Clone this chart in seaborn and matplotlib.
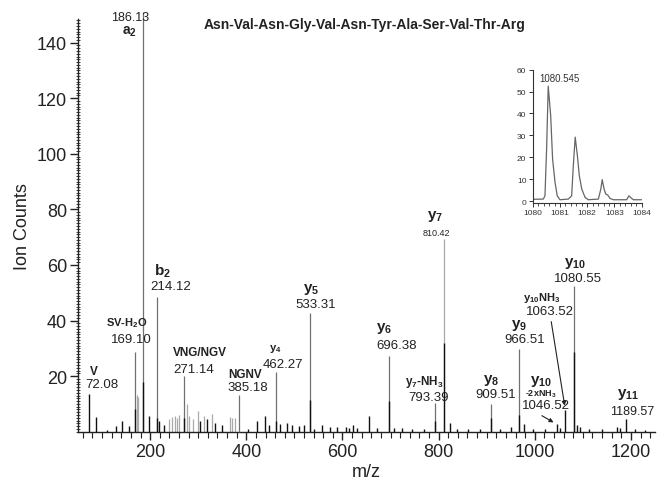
import numpy as np
import pandas as pd
import matplotlib
matplotlib.use("Agg")
import matplotlib.pyplot as plt
from matplotlib.ticker import MultipleLocator, FixedLocator
import seaborn as sns

# ---------------- data ----------------
title = "Asn-Val-Asn-Gly-Val-Asn-Tyr-Ala-Ser-Val-Thr-Arg"

# stick spectrum: m/z, intensity, shade (0 = black, 1 = dark grey, 2 = light grey)
peak_mz = [72.08, 87, 111, 129, 141, 156, 169.10, 169.10, 172, 174, 186.13, 186.13, 198,
           214.12, 214.12, 218, 229, 240, 246, 251, 256, 260, 271.14, 271.14, 276, 281,
           290, 300, 304, 312, 319, 328, 334, 350, 367, 371, 376, 385.18, 404, 423, 439,
           447, 462.27, 462.27, 471, 485, 496, 509, 519, 533.31, 533.31, 541, 558, 575,
           589, 607, 613, 621, 631, 655, 672, 696.38, 696.38, 707, 724, 745, 769, 793.39,
           793.39, 810.42, 810.42, 823, 838, 862, 887, 909.51, 909.51, 928, 951, 966.51,
           966.51, 977, 997, 1022, 1046.52, 1053, 1063.52, 1080.55, 1080.55, 1087, 1094,
           1113, 1139, 1170, 1177, 1189.57, 1209, 1229]
peak_int = [13.6, 5.2, 0.6, 2.0, 4.0, 2.2, 28.6, 8.0, 13.2, 12.5, 151.0, 18.0, 5.8,
            48.4, 5.0, 4.0, 2.5, 4.5, 5.2, 5.5, 4.8, 6.0, 20.2, 5.0, 10.0, 5.8,
            4.5, 7.6, 4.0, 5.8, 4.7, 6.2, 3.0, 2.4, 5.2, 4.8, 5.0, 13.2, 1.0, 4.0, 5.6,
            2.4, 21.4, 4.0, 2.7, 3.0, 2.4, 2.0, 2.4, 42.8, 11.4, 1.0, 2.4, 1.8,
            1.8, 1.8, 1.5, 2.4, 1.5, 5.5, 1.5, 27.4, 11.2, 1.5, 1.5, 1.0, 1.0, 10.5,
            4.0, 69.4, 32.0, 3.0, 1.0, 1.0, 1.0, 10.0, 5.0, 1.0, 1.8, 29.8,
            6.0, 2.6, 1.0, 1.0, 2.6, 1.4, 7.9, 52.3, 28.7, 2.4, 1.8,
            1.0, 0.8, 1.8, 1.2, 4.6, 0.8, 0.6]
peak_shade = [0, 0, 0, 0, 0, 0, 1, 0, 2, 2, 1, 0, 0,
              1, 0, 0, 0, 2, 2, 2, 2, 2, 1, 0, 2, 2,
              2, 2, 0, 2, 0, 2, 0, 0, 2, 2, 2, 1, 0, 0, 0,
              0, 1, 0, 0, 0, 0, 0, 0, 1, 0, 0, 0, 0,
              0, 0, 0, 0, 0, 0, 0, 1, 0, 0, 0, 0, 0, 1,
              0, 2, 0, 0, 0, 0, 0, 1, 0, 0, 0, 1,
              0, 0, 0, 0, 0, 0, 0, 1, 0, 0, 0,
              0, 0, 0, 0, 0, 0, 0]

# labelled ions
lab_mz = [72.08, 169.10, 186.13, 214.12, 271.14, 385.18, 462.27, 533.31, 696.38,
          793.39, 810.42, 909.51, 966.51, 1080.55, 1189.57]
lab_int = [13.6, 28.6, 151.0, 48.4, 20.2, 13.2, 21.4, 42.8, 27.4,
           10.5, 69.4, 10.0, 29.8, 52.3, 4.6]
lab_ion = ["V", r"SV-H$_\mathbf{2}$O", r"$\mathbf{a_2}$", r"$\mathbf{b_2}$", "VNG/NGV", "NGNV",
           r"$\mathbf{y_4}$", r"$\mathbf{y_5}$", r"$\mathbf{y_6}$", r"$\mathbf{y_7}$-NH$_\mathbf{3}$",
           r"$\mathbf{y_7}$", r"$\mathbf{y_8}$", r"$\mathbf{y_9}$", r"$\mathbf{y_{10}}$",
           r"$\mathbf{y_{11}}$"]
lab_txt = ["72.08", "169.10", "186.13", "214.12", "271.14", "385.18", "462.27", "533.31",
           "696.38", "793.39", "810.42", "909.51", "966.51", "1080.55", "1189.57"]

# inset: isotope envelope of y10
iso_mz = [1080.02, 1080.39, 1080.45, 1080.51, 1080.57, 1080.66, 1080.73, 1080.82, 1080.90,
          1081.00, 1081.31, 1081.43, 1081.49, 1081.56, 1081.64, 1081.71, 1081.80, 1081.92,
          1082.04, 1082.41, 1082.50, 1082.55, 1082.62, 1082.68, 1082.75, 1082.84, 1082.96,
          1083.45, 1083.53, 1083.63, 1083.70, 1084.00]
iso_int = [0.8, 0.9, 2.4, 23.7, 52.5, 39.0, 19.2, 8.5, 2.4,
           0.6, 0.9, 2.4, 16.1, 29.2, 20.7, 11.6, 5.5, 1.7,
           0.6, 0.9, 5.5, 9.8, 5.5, 3.2, 2.8, 1.2, 0.6,
           0.6, 2.4, 1.2, 0.6, 0.6]

# ---------------- style ----------------
sns.set_theme(style="ticks")
plt.rcParams["font.family"] = ["Liberation Sans", "DejaVu Sans"]
plt.rcParams["mathtext.fontset"] = "custom"
plt.rcParams["mathtext.rm"] = "Liberation Sans"
plt.rcParams["mathtext.it"] = "Liberation Sans"
plt.rcParams["mathtext.bf"] = "Liberation Sans:bold"

fig = plt.figure(figsize=(6.6, 4.81), dpi=100)
ax = fig.add_axes([78 / 660, 1 - 432.7 / 481, (655 - 78) / 660, (432.7 - 20) / 481])

df = pd.DataFrame({"mz": peak_mz, "int": peak_int, "shade": peak_shade})
shade_col = {0: "#111111", 1: "#707070", 2: "#a9a9a9"}
shade_lw = {0: 1.0, 1: 0.9, 2: 0.9}
for s in [2, 1, 0]:
    sub = df[df["shade"] == s]
    ax.vlines(sub["mz"], 0, sub["int"], colors=shade_col[s], lw=shade_lw[s],
              clip_on=False, zorder=2 + (2 - s))

ax.set_xlim(50, 1250)
ax.set_ylim(0, 148.5)
sns.despine(ax=ax)
ax.xaxis.set_major_locator(FixedLocator([200, 400, 600, 800, 1000, 1200]))
ax.xaxis.set_minor_locator(MultipleLocator(20))
ax.yaxis.set_major_locator(FixedLocator([20, 40, 60, 80, 100, 120, 140]))
ax.yaxis.set_minor_locator(MultipleLocator(1))
ax.tick_params(axis="both", which="major", labelsize=13, length=6, width=1, color="#222222",
               labelcolor="#222222", pad=2)
ax.tick_params(axis="x", which="minor", length=4, width=0.8, color="#222222")
ax.tick_params(axis="y", which="minor", length=3, width=0.6, direction="inout", color="#222222")
for sp in ax.spines.values():
    sp.set_linewidth(1.0)
    sp.set_color("#222222")
ax.set_xlabel("m/z", fontsize=13, color="#222222", labelpad=2)
ax.set_ylabel("Ion Counts", fontsize=13, color="#222222", labelpad=4)

# labels (offsets in pixels from the peak top)
num_off = [(13.3, 10), (-3.9, 13.3), (-13.3, 1.7), (14, 10.7), (9, 6.6), (8.6, 7.8),
           (6.9, 8.3), (5.5, 8.9), (8, 10.7), (-7, 5.3), (-7.1, 6.8), (4.1, 9.5),
           (6.2, 10), (4.7, 8.3), (6.3, 8.2)]
ion_off = [(5.6, 23.3), (-8.1, 30.3), (-14.3, -11.7), (5.5, 26.7), (15.6, 23.3), (5.6, 21.1),
           (-0.6, 24), (1.2, 24.6), (-5, 28.4), (-11.4, 21.9), (-8.9, 23.4), (0.1, 24.5),
           (0.6, 24), (1.7, 24.3), (1.8, 25.9)]
ion_size = [8.5, 8, 10, 11, 8.5, 8.5, 8, 11, 11, 8.5, 11, 11, 11, 11, 11]
num_size = [9.5, 9.5, 9, 9.5, 9.5, 9.5, 9.5, 9.5, 9.5, 9.5, 6.5, 9.5, 9.5, 9.5, 9]
for i, (m, h) in enumerate(zip(lab_mz, lab_int)):
    y = min(h, 148.5)
    ax.annotate(lab_txt[i], xy=(m, y), xytext=num_off[i], textcoords="offset pixels",
                ha="center", va="center", fontsize=num_size[i], color="#222222",
                annotation_clip=False)
    ax.annotate(lab_ion[i], xy=(m, y), xytext=ion_off[i], textcoords="offset pixels",
                ha="center", va="center", fontsize=ion_size[i], fontweight="bold",
                color="#222222", annotation_clip=False)

# y10 -2xNH3 (1046.52) with arrow
m, h = 1046.52, 2.6
ax.annotate("1046.52", xy=(m, h), xytext=(-11.3, 19.5), textcoords="offset pixels",
            ha="center", va="center", fontsize=9.5, color="#222222")
ax.annotate("-2xNH$_\\mathbf{3}$", xy=(m, h), xytext=(-16.4, 31.5), textcoords="offset pixels",
            ha="center", va="center", fontsize=6.5, fontweight="bold", color="#222222")
ax.annotate(r"$\mathbf{y_{10}}$", xy=(m, h), xytext=(-16.1, 43.8), textcoords="offset pixels",
            ha="center", va="center", fontsize=11, fontweight="bold", color="#222222")
ax.annotate("", xy=(m, h), xytext=(-15.3, 8.8), textcoords="offset pixels",
            arrowprops=dict(arrowstyle="-|>", color="#222222", lw=0.8, mutation_scale=6,
                            shrinkA=0, shrinkB=3))

# y10 NH3 (1063.52) with arrow
m, h = 1063.52, 7.9
ax.annotate("1063.52", xy=(m, h), xytext=(-15.5, 99.1), textcoords="offset pixels",
            ha="center", va="center", fontsize=9.5, color="#222222")
ax.annotate(r"$\mathbf{y_{10}}$NH$_\mathbf{3}$", xy=(m, h), xytext=(-24, 112.5),
            textcoords="offset pixels", ha="center", va="center", fontsize=8,
            fontweight="bold", color="#222222")
ax.annotate("", xy=(m, h), xytext=(-14.1, 88.1), textcoords="offset pixels",
            arrowprops=dict(arrowstyle="-|>", color="#222222", lw=0.8, mutation_scale=6,
                            shrinkA=0, shrinkB=3))

fig.text(364.5 / 660, 1 - 25 / 481, title, ha="center", va="center", fontsize=10,
         fontweight="bold", color="#222222")

# ---------------- inset ----------------
axi = fig.add_axes([532.7 / 660, 1 - 203.8 / 481, 109 / 660, (203.8 - 70.7) / 481])
iso = pd.DataFrame({"mz": iso_mz, "int": iso_int})
sns.lineplot(data=iso, x="mz", y="int", ax=axi, color="#666666", lw=0.9, sort=True)
axi.set_xlim(1080, 1084)
axi.set_ylim(-0.8, 60)
sns.despine(ax=axi)
axi.set_xlabel("")
axi.set_ylabel("")
axi.xaxis.set_major_locator(MultipleLocator(1))
axi.xaxis.set_minor_locator(MultipleLocator(0.2))
axi.yaxis.set_major_locator(MultipleLocator(10))
axi.tick_params(axis="both", which="major", labelsize=6, length=3, width=0.7, pad=1.5,
                color="#333333", labelcolor="#333333")
axi.tick_params(axis="x", which="minor", length=2, width=0.6, color="#333333")
for sp in axi.spines.values():
    sp.set_linewidth(0.8)
    sp.set_color("#333333")
axi.annotate("1080.545", xy=(1080.57, 52.5), xytext=(11.7, 8.1), textcoords="offset pixels",
             ha="center", va="center", fontsize=7, color="#333333")

fig.savefig("out.png", dpi=100)
